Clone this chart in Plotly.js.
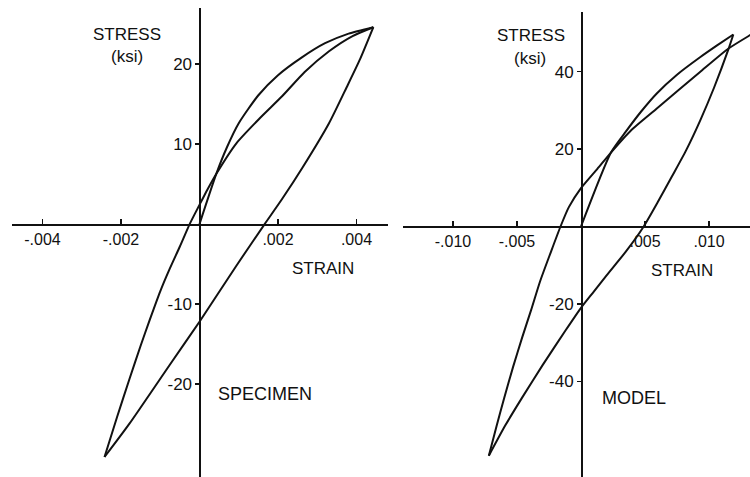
<!DOCTYPE html>
<html>
<head>
<meta charset="utf-8">
<script src="https://cdn.plot.ly/plotly-3.0.1.min.js"></script>
<style>html,body{margin:0;padding:0;background:#fff;}#chart{width:750px;height:477px;}</style>
</head>
<body>
<div id="chart"></div>
<script>
// ---------------- DATA ----------------
// SPECIMEN (strain, stress ksi)
const specVirginStrain = [0, 0.00043, 0.0007, 0.001, 0.0015, 0.002, 0.0026, 0.0032, 0.0038, 0.00443];
const specVirginStress = [0, 6.3, 9.6, 12.6, 16.1, 18.6, 20.8, 22.6, 23.8, 24.6];
const specUnloadStrain = [0.00443, 0.0041, 0.00375, 0.0033, 0.00263, 0.0021, 0.00166, 0.00094, 0, -0.00076, -0.00178, -0.00242];
const specUnloadStress = [24.6, 20.7, 17.1, 12.6, 7.1, 3.1, 0, -5.2, -12.2, -17.6, -24.9, -29.1];
const specReloadStrain = [-0.00242, -0.0021, -0.00178, -0.0015, -0.00127, -0.001, -0.00076, -0.0005, -0.00025, 0, 0.0002, 0.00043, 0.00094, 0.00153, 0.00211, 0.00268, 0.0033, 0.0039, 0.00443];
const specReloadStress = [-29.1, -24.1, -19.3, -15.2, -12.0, -8.4, -5.6, -2.8, 0, 2.4, 4.3, 6.3, 10.1, 13.2, 16.0, 19.0, 21.6, 23.5, 24.6];

// MODEL (strain, stress ksi)
const modelVirginStrain = [0, 0.00234, 0.0035, 0.0047, 0.0059, 0.0075, 0.0093, 0.0106, 0.0119];
const modelVirginStress = [0, 19.1, 24.5, 29.7, 34.3, 39.2, 43.7, 46.7, 49.6];
const modelUnloadStrain = [0.0119, 0.0115, 0.0104, 0.0093, 0.0082, 0.0071, 0.006, 0.0049, 0.0035, 0.002, 0.001, 0, -0.0012, -0.003, -0.0046, -0.0059, -0.0072];
const modelUnloadStress = [49.6, 45.6, 35.9, 27.3, 19.6, 12.9, 6.3, 0, -6.5, -12.6, -16.8, -21.0, -26.8, -35.8, -44.2, -51.3, -59.2];
const modelReloadStrain = [-0.0072, -0.0066, -0.006, -0.0053, -0.0046, -0.0039, -0.0032, -0.0024, -0.0016, -0.00095, 0, 0.00128, 0.00234, 0.0039, 0.0059, 0.0093, 0.0115, 0.0132, 0.0145];
const modelReloadStress = [-59.2, -51.6, -44.3, -36.2, -28.7, -21.6, -14.2, -7.0, 0, 5.0, 9.9, 14.9, 19.1, 24.8, 30.4, 39.9, 45.9, 49.4, 51.9];

// Tick labels
const specXTicks = [-0.004, -0.002, 0.002, 0.004];
const specXText  = ['-.004', '-.002', '.002', '.004'];
const specYTicks = [20, 10, -10, -20];
const specYText  = ['20', '10', '-10', '-20'];
const modelXTicks = [-0.010, -0.005, 0.005, 0.010];
const modelXText  = ['-.010', '-.005', '.005', '.010'];
const modelYTicks = [40, 20, -20, -40];
const modelYText  = ['40', '20', '-20', '-40'];

// ---------------- LAYOUT ----------------
const W = 750, H = 477;
const FONT = 'Liberation Sans, Arial, Helvetica, sans-serif';
const INK = '#111';

// panel pixel boxes and ranges
const leftBox  = {x0: 12,  x1: 388, y0: 8,  y1: 477};
const rightBox = {x0: 403, x1: 750, y0: 12, y1: 477};
const leftX  = [-0.004777, 0.004803];
const leftY  = [-31.6, 27.0];
const rightX = [-0.013906, 0.013203];
const rightY = [-64.7, 55.4];

function dom(box) {
  return {x: [box.x0 / W, box.x1 / W], y: [1 - box.y1 / H, 1 - box.y0 / H]};
}
function zeroPos(domain, range) {
  return domain[0] + (0 - range[0]) / (range[1] - range[0]) * (domain[1] - domain[0]);
}
const dL = dom(leftBox), dR = dom(rightBox);

function xAxis(domain, range, pos, vals, text) {
  return {domain: domain, range: range, anchor: 'free', position: pos,
    showline: true, linecolor: INK, linewidth: 1.6, zeroline: false, showgrid: false,
    tickmode: 'array', tickvals: vals, ticktext: text, ticks: 'inside', ticklen: 5,
    tickwidth: 1.5, tickcolor: INK, tickfont: {family: FONT, size: 16, color: INK},
    fixedrange: true};
}
function yAxis(domain, range, pos, vals, text) {
  return {domain: domain, range: range, anchor: 'free', position: pos,
    showline: true, linecolor: INK, linewidth: 1.6, zeroline: false, showgrid: false,
    tickmode: 'array', tickvals: vals, ticktext: text, ticks: 'outside', ticklen: 4,
    tickwidth: 1.5, tickcolor: INK, tickfont: {family: FONT, size: 17, color: INK},
    fixedrange: true};
}
function yOver(over, range, pos, vals) {
  return {overlaying: over, range: range, anchor: 'free', position: pos,
    showline: false, zeroline: false, showgrid: false, showticklabels: false,
    tickmode: 'array', tickvals: vals, ticks: 'inside', ticklen: 4,
    tickwidth: 1.5, tickcolor: INK, fixedrange: true};
}

const lx0 = zeroPos(dL.x, leftX), ly0 = zeroPos(dL.y, leftY);
const rx0 = zeroPos(dR.x, rightX), ry0 = zeroPos(dR.y, rightY);

const lineStyle = {color: INK, width: 2, shape: 'spline', smoothing: 0.6};
function tr(x, y, xa, ya) {
  return {x: x, y: y, xaxis: xa, yaxis: ya, type: 'scatter', mode: 'lines',
    line: lineStyle, hoverinfo: 'skip', showlegend: false};
}

const data = [
  tr(specVirginStrain, specVirginStress, 'x', 'y'),
  tr(specUnloadStrain, specUnloadStress, 'x', 'y'),
  tr(specReloadStrain, specReloadStress, 'x', 'y'),
  tr(modelVirginStrain, modelVirginStress, 'x2', 'y2'),
  tr(modelUnloadStrain, modelUnloadStress, 'x2', 'y2'),
  tr(modelReloadStrain, modelReloadStress, 'x2', 'y2')
];

function ann(text, px, py, size) {
  return {text: text, x: px / W, y: 1 - py / H, xref: 'paper', yref: 'paper',
    xanchor: 'center', yanchor: 'middle', showarrow: false,
    font: {family: FONT, size: size, color: INK}};
}

const layout = {
  width: W, height: H,
  margin: {l: 0, r: 0, t: 0, b: 0, pad: 0},
  paper_bgcolor: '#fff', plot_bgcolor: 'rgba(0,0,0,0)',
  showlegend: false,
  xaxis:  xAxis(dL.x, leftX, ly0, specXTicks, specXText),
  yaxis:  yAxis(dL.y, leftY, lx0, specYTicks, specYText),
  xaxis2: xAxis(dR.x, rightX, ry0, modelXTicks, modelXText),
  yaxis2: yAxis(dR.y, rightY, rx0, modelYTicks, modelYText),
  yaxis3: yOver('y', leftY, lx0, specYTicks),
  yaxis4: yOver('y2', rightY, rx0, modelYTicks),
  annotations: [
    ann('STRESS', 127, 34, 17),
    ann('(ksi)', 127, 57, 17),
    ann('STRAIN', 323, 268, 17),
    ann('SPECIMEN', 265, 394, 18),
    ann('STRESS', 531, 36, 17),
    ann('(ksi)', 530, 58, 17),
    ann('STRAIN', 682, 270, 17),
    ann('MODEL', 634, 398, 18)
  ]
};

Plotly.newPlot('chart', data, layout, {staticPlot: true, displayModeBar: false});
</script>
</body>
</html>
